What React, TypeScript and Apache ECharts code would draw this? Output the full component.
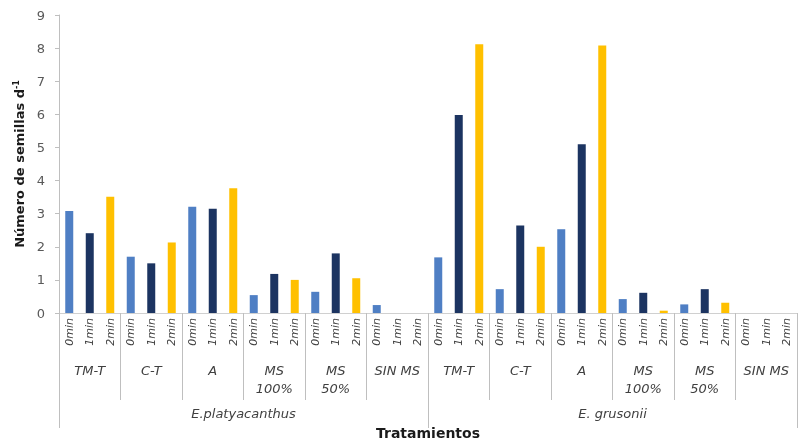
import React, { useEffect, useRef } from "react";
import * as echarts from "echarts";

const times = ["0min", "1min", "2min"];
const treatments = ["TM-T", "C-T", "A", "MS\n100%", "MS\n50%", "SIN MS"];
const species = ["E.platyacanthus", "E. grusonii"];
const platy0 = [3.08, 1.7, 3.21, 0.54, 0.64, 0.24];
const platy1 = [2.41, 1.5, 3.15, 1.18, 1.8, 0];
const platy2 = [3.51, 2.13, 3.77, 1.0, 1.05, 0];
const grus0 = [1.68, 0.72, 2.53, 0.42, 0.26, 0];
const grus1 = [5.98, 2.64, 5.1, 0.61, 0.72, 0];
const grus2 = [8.12, 2.0, 8.08, 0.07, 0.31, 0];
const timeColors = ["#4f7fc4", "#1c3461", "#ffc000"];

export default function App() {
  const ref = useRef<HTMLDivElement>(null);
  useEffect(() => {
    if (!ref.current) return;
    const chart = echarts.init(ref.current, undefined, { renderer: "svg" });
    const bySpecies = [
      [platy0, platy1, platy2],
      [grus0, grus1, grus2],
    ];
    const cats: string[] = [];
    const data: any[] = [];
    const treatCats: string[] = [];
    bySpecies.forEach((sp) => {
      treatments.forEach((t, ti) => {
        treatCats.push(t);
        times.forEach((tm, k) => {
          cats.push(tm);
          data.push({ value: sp[k][ti], itemStyle: { color: timeColors[k] } });
        });
      });
    });
    const font = "DejaVu Sans, Verdana, sans-serif";
    const gray = "#bfbfbf";
    chart.setOption({
      animation: false,
      textStyle: { fontFamily: font },
      grid: { left: 59, right: 3, top: 15, bottom: 131, containLabel: false, outerBoundsMode: "none" },
      xAxis: [
        {
          type: "category",
          data: cats,
          position: "bottom",
          offset: 0,
          axisLine: { show: true, lineStyle: { color: "#d0d0d0" } },
          axisTick: { show: false },
          axisLabel: {
            interval: 0,
            rotate: 90,
            fontStyle: "italic",
            fontSize: 11,
            color: "#404040",
            margin: 5,
            fontFamily: font,
          },
        },
        {
          type: "category",
          data: treatCats,
          position: "bottom",
          offset: 0,
          axisLine: { show: false },
          axisTick: { show: true, interval: 0, length: 87, lineStyle: { color: gray } },
          axisLabel: {
            interval: 0,
            fontStyle: "italic",
            fontSize: 13,
            color: "#404040",
            margin: 48,
            lineHeight: 18,
            fontFamily: font,
          },
        },
        {
          type: "category",
          data: species,
          position: "bottom",
          offset: 0,
          axisLine: { show: false },
          axisTick: { show: true, interval: 0, length: 115, lineStyle: { color: gray } },
          axisLabel: {
            interval: 0,
            fontStyle: "italic",
            fontSize: 13,
            color: "#404040",
            margin: 94,
            fontFamily: font,
          },
          name: "Tratamientos",
          nameLocation: "middle",
          nameGap: 113,
          nameTextStyle: { fontWeight: "bold", fontSize: 14, color: "#1a1a1a", fontFamily: font },
        },
      ],
      yAxis: {
        type: "value",
        min: 0,
        max: 9,
        interval: 1,
        axisLine: { show: true, lineStyle: { color: gray } },
        axisTick: { show: true, length: 4, lineStyle: { color: gray } },
        splitLine: { show: false },
        axisLabel: { fontSize: 13, color: "#595959", margin: 14, fontFamily: font },
        name: "Número de semillas d{sup|-1}",
        nameLocation: "middle",
        nameGap: 31,
        nameRotate: 90,
        nameTextStyle: {
          fontWeight: "bold",
          fontSize: 13,
          color: "#1a1a1a",
          fontFamily: font,
          rich: {
            sup: { fontSize: 8, fontWeight: "bold", verticalAlign: "top", padding: [0, 0, 6, 0], color: "#1a1a1a", fontFamily: font },
          },
        },
      },
      series: [
        {
          type: "bar",
          xAxisIndex: 0,
          data,
          barWidth: 8,
        },
      ],
    });
    return () => chart.dispose();
  }, []);
  return <div ref={ref} style={{ width: 800, height: 444, position: "fixed", left: 0, top: 0 }} />;
}
